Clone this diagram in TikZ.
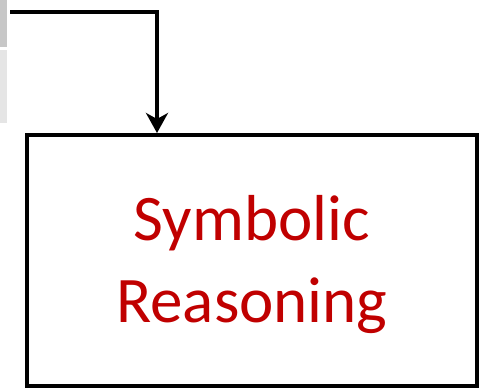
\documentclass[tikz,border=0pt]{standalone}
\usepackage{fontspec}
\setmainfont{Carlito}
\usepackage{xcolor}
\usetikzlibrary{arrows.meta}
\definecolor{rojo}{RGB}{192,0,0}

\begin{document}
\begin{tikzpicture}[x=1pt, y=-1pt]
        % Marco del dibujo
        \useasboundingbox (0,0) rectangle (488,390);

        % Franjas grises a la izquierda
        \fill[black!22] (0,0) rectangle (7,47);
        \fill[black!10] (0,50) rectangle (7,123);

        % Caja
        \node[draw, line width=4pt, minimum width=450pt, minimum height=251pt, inner sep=0pt] (reasoning) at (252,260.5) {};
        \node[align=center, text=rojo, font=\fontsize{65}{82}\selectfont] (texto) at (252,265) {Symbolic\\Reasoning};

        % Flecha
        \coordinate (inicio) at (10,12);
        \coordinate (codo) at (157,12);
        \draw[line width=4pt, -{Stealth[length=20pt, width=22pt, inset=6pt]}]
              (inicio) -- (codo) -- (codo |- reasoning.north);

    \end{tikzpicture}
\end{document}
